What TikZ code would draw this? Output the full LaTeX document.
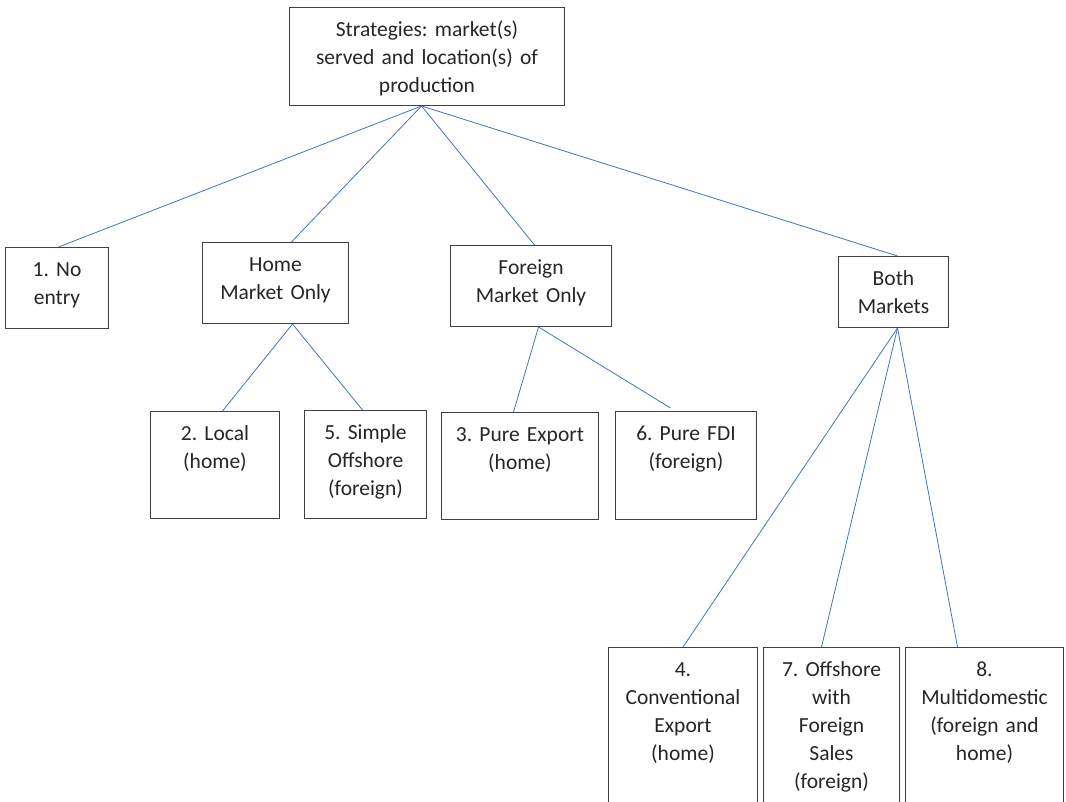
\documentclass[tikz,border=0pt]{standalone}
\usepackage{fontspec}
\setmainfont{Carlito}
\frenchspacing
\usetikzlibrary{positioning}
\definecolor{linkblue}{HTML}{4472C4}
\definecolor{boxline}{HTML}{404040}
\definecolor{boxtext}{HTML}{262626}

\begin{document}
\begin{tikzpicture}[x=1pt, y=-1pt,
  box/.style 2 args={draw=boxline, line width=1pt, inner sep=0pt, anchor=north west, align=center,
    text width=#1, text height=29pt, text depth=#2, text=boxtext, font=\fontsize{21.5}{28}\selectfont},
  link/.style={draw=linkblue, line width=0.8pt}]
\useasboundingbox (0,0) rectangle (1066,802);
\clip (0,0) rectangle (1066,802);

\node[box={275pt}{69pt}] at (289,7) (root) {Strategies: market(s)\\served and location(s) of\\production};

\node[box={103pt}{52pt}] at (5,247) (noentry) {1. No\\entry};
\node[box={146pt}{52pt}] at (202,242) (home) {Home\\Market Only};
\node[box={161pt}{52pt}] at (450,245) (foreign) {Foreign\\Market Only};
\node[box={110pt}{42pt}] at (838,256) (both) {Both\\Markets};

\node[box={129pt}{78pt}] at (150,411) (local) {2. Local\\(home)};
\node[box={122pt}{79pt}] at (304,410) (offshore) {5. Simple\\Offshore\\(foreign)};
\node[box={157pt}{78pt}] at (441,412) (export) {3. Pure Export\\(home)};
\node[box={141pt}{79pt}] at (615,411) (fdi) {6. Pure FDI\\(foreign)};

\node[box={149pt}{171pt}] at (608,647) (conventional) {4.\\Conventional\\Export\\(home)};
\node[box={136pt}{171pt}] at (763,647) (sales) {7. Offshore\\with\\Foreign\\Sales\\(foreign)};
\node[box={158pt}{171pt}] at (905,647) (multi) {8.\\Multidomestic\\(foreign and\\home)};

\draw[link] ([xshift=-5.5pt]root.south) -- ([xshift=1.5pt]noentry.north);
\draw[link] ([xshift=-5.5pt]root.south) -- ([xshift=16pt]home.north);
\draw[link] ([xshift=-5.5pt]root.south) -- ([xshift=3.5pt]foreign.north);
\draw[link] ([xshift=-5.5pt]root.south) -- ([xshift=4pt]both.north);

\draw[link] ([xshift=17pt]home.south) -- ([xshift=7.5pt]local.north);
\draw[link] ([xshift=17pt]home.south) -- ([xshift=-3pt]offshore.north);
\draw[link] ([xshift=7.5pt]foreign.south) -- ([xshift=-6.5pt]export.north);
\draw[link] ([xshift=7.5pt]foreign.south) -- ([xshift=-15.5pt,yshift=3pt]fdi.north);

\draw[link] ([xshift=4pt]both.south) -- (conventional.north);
\draw[link] ([xshift=4pt]both.south) -- ([xshift=-10pt]sales.north);
\draw[link] ([xshift=4pt]both.south) -- ([xshift=-27pt]multi.north);
\end{tikzpicture}
\end{document}
